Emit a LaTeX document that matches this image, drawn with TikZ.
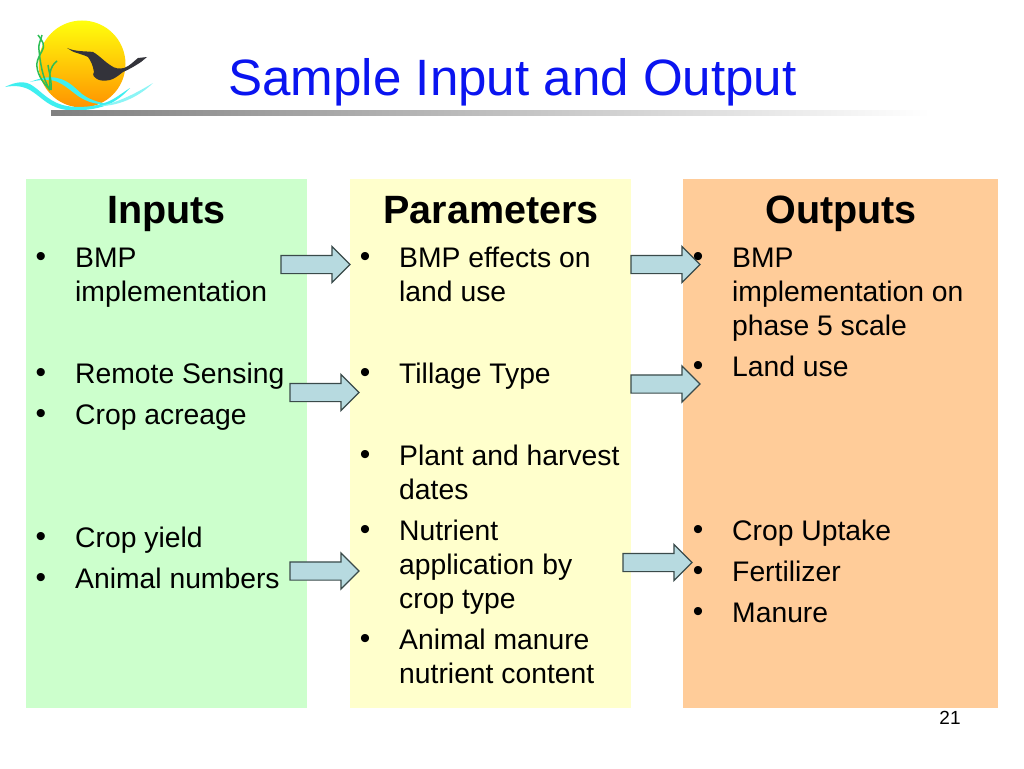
\documentclass[tikz,border=0pt]{standalone}
\usepackage{fontspec}
\setmainfont{Liberation Sans}
\usetikzlibrary{shapes.arrows}
\definecolor{inbg}{HTML}{CCFFCC}
\definecolor{parbg}{HTML}{FFFFCC}
\definecolor{outbg}{HTML}{FFCC99}
\definecolor{arrowfill}{HTML}{B7DAE0}
\definecolor{arrowline}{HTML}{3A4A4A}
\definecolor{titleblue}{HTML}{0A14F0}
\definecolor{waterc}{HTML}{3FEFF0}
\definecolor{reedc}{HTML}{2DBE55}
\definecolor{birdc}{HTML}{33333A}
\tikzset{
  column/.style={inner sep=0pt,outer sep=0pt},
  heading/.style={anchor=base,inner sep=0pt,font=\fontsize{39.5}{45}\bfseries\selectfont},
  itemtext/.style={anchor=north west,inner sep=0pt,align=left,yshift=23.8pt,font=\fontsize{28.3}{34}\selectfont},
  bullet/.style={anchor=base,inner sep=0pt,yshift=0.5pt,font=\fontsize{30}{34}\selectfont},
  flowarrow/.style={single arrow,draw=arrowline,fill=arrowfill,line width=1.2pt,inner sep=0pt,outer sep=0pt,
    single arrow head extend=9pt,single arrow head indent=0pt,shape border rotate=0,anchor=tail,
    minimum height=69pt,minimum width=35pt,text width=50pt,text height=8.5pt,text depth=8.5pt},
}
\newcommand{\itm}[4]{%
  \node[itemtext] (#1) at (#2,#3) {\strut #4};
  \node[bullet] (#1b) at (#2-34,#3) {•};
}
\begin{document}
\begin{tikzpicture}[x=1pt,y=-1pt]
\useasboundingbox (0,0) rectangle (1024,768);
\fill[white] (0,0) rectangle (1024,768);
% logo
\shade[top color=yellow!95!white,bottom color=orange!85!yellow] (82,64) circle (43.5);
\fill[waterc] (5,87) .. controls (15,82) and (25,80) .. (33,86) .. controls (42,92) and (50,103) .. (67,106)
  .. controls (78,108) and (95,107) .. (107,102) .. controls (115,99) and (122,93) .. (130,88)
  .. controls (124,95) and (115,102) .. (107,105) .. controls (95,110) and (78,111) .. (67,110)
  .. controls (50,108) and (42,98) .. (33,92) .. controls (25,86) and (15,85) .. (5,87) -- cycle;
\fill[waterc] (30,82) .. controls (40,78) and (50,76) .. (57,78) .. controls (68,80) and (75,88) .. (82,94)
  .. controls (90,100) and (98,102) .. (107,104) .. controls (97,105) and (87,102) .. (78,96)
  .. controls (70,90) and (62,83) .. (55,81) .. controls (47,79) and (38,80) .. (30,82) -- cycle;
\fill[waterc!60!white] (100,106) .. controls (120,102) and (138,92) .. (153,83) .. controls (142,94) and (122,106) .. (100,106) -- cycle;
\draw[reedc,line width=1.5pt] (50,90) .. controls (42,82) and (36,72) .. (37,63) .. controls (38,55) and (46,48) .. (43,43) .. controls (42,40) and (40,38) .. (38,35);
\draw[reedc,line width=1.5pt] (42,35) .. controls (41,40) and (38,44) .. (39,50) .. controls (40,60) and (42,78) .. (50,90);
\draw[reedc,line width=1.5pt] (57,61) .. controls (53,64) and (51,68) .. (50,73) .. controls (49,79) and (50,85) .. (50,90);
\draw[reedc,line width=1.5pt] (48,65) .. controls (49,72) and (52,82) .. (51,90);
\fill[birdc] (67,48) .. controls (76,52) and (86,51) .. (93,52) .. controls (100,56) and (105,62) .. (110,65)
  .. controls (115,69) and (120,69) .. (124,68) .. controls (130,66) and (134,61) .. (138,58) -- (147,57) -- (141,62)
  .. controls (135,66) and (128,70) .. (123,72) .. controls (118,76) and (114,79) .. (110,80)
  .. controls (105,81) and (100,81) .. (97,79) .. controls (94,77) and (92,75) .. (94,72)
  .. controls (93,66) and (91,61) .. (88,57) .. controls (84,55) and (80,54) .. (77,53) .. controls (73,52) and (70,50) .. (67,48) -- cycle;
% title rule
\shade[left color=black!50,right color=white] (51,110) rectangle (930,115);
% title
\node[anchor=base,inner sep=0pt,text=titleblue,font=\fontsize{51.1}{58}\selectfont] (title) at (512.5,95) {Sample Input and Output};
% columns
\node[column,fill=inbg,minimum width=281pt,minimum height=529pt,anchor=north west] (incol) at (26,179) {};
\node[column,fill=parbg,minimum width=281pt,minimum height=529pt,anchor=north west] (parcol) at (350,179) {};
\node[column,fill=outbg,minimum width=315pt,minimum height=529pt,anchor=north west] (outcol) at (683,179) {};
% arrows
\node[flowarrow] (a1) at (281,264.5) {};
\node[flowarrow] (a2) at (290,392.5) {};
\node[flowarrow] (a3) at (290,571) {};
\node[flowarrow] (a4) at (631,264.5) {};
\node[flowarrow] (a5) at (631,384) {};
\node[flowarrow] (a6) at (623,562.5) {};
% headings
\node[heading] (inhead) at (166.5,223) {Inputs};
\node[heading] (parhead) at (491,223) {Parameters};
\node[heading] (outhead) at (841,223) {Outputs};
% inputs
\itm{ia}{75}{267}{BMP\\implementation}
\itm{ib}{75}{383}{Remote Sensing}
\itm{ic}{75}{424}{Crop acreage}
\itm{id}{75}{547}{Crop yield}
\itm{ie}{75}{588}{Animal numbers}
% parameters
\itm{pa}{399}{267}{BMP effects on\\land use}
\itm{pb}{399}{383}{Tillage Type}
\itm{pc}{399}{465}{Plant and harvest\\dates}
\itm{pd}{399}{540}{Nutrient\\application by\\crop type}
\itm{pe}{399}{649}{Animal manure\\nutrient content}
% outputs
\itm{oa}{732}{267}{BMP\\implementation on\\phase 5 scale}
\itm{ob}{732}{376}{Land use}
\itm{oc}{732}{540}{Crop Uptake}
\itm{od}{732}{581}{Fertilizer}
\itm{oe}{732}{622}{Manure}
% page number
\node[anchor=base,inner sep=0pt,font=\fontsize{19}{22}\selectfont] (page) at (950,724) {21};
\end{tikzpicture}
\end{document}
